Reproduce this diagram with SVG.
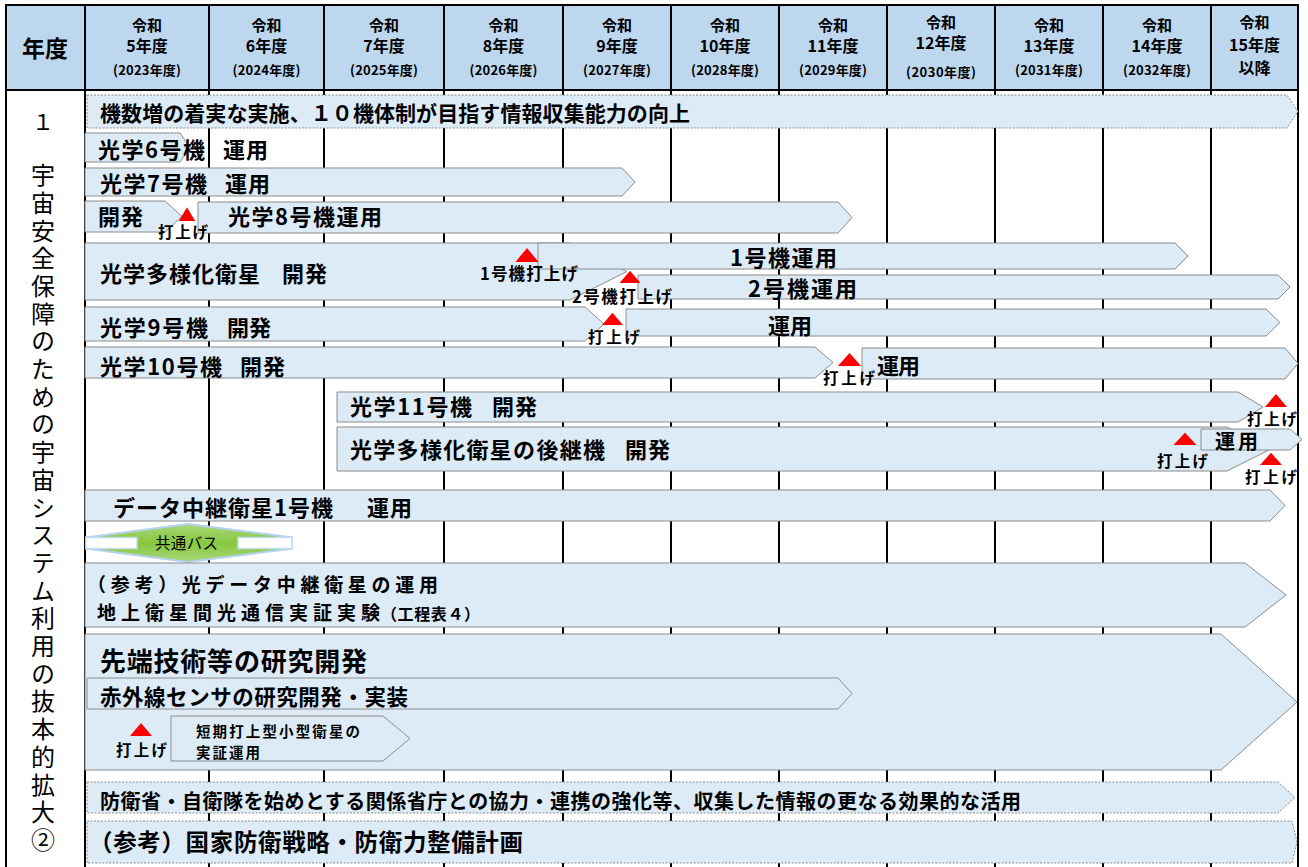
<svg xmlns="http://www.w3.org/2000/svg" width="1308" height="867" viewBox="0 0 1308 867">
<style>
.bar{fill:#DDEBF7;stroke:#8C8C8C;stroke-width:1}
.dot{fill:#DDEBF7;stroke:#8C8C8C;stroke-width:1;stroke-dasharray:2 1.5}
.t{font-family:"Noto Sans CJK JP","Noto Sans CJK SC",sans-serif;font-weight:700;fill:#000}
.n{font-family:"Noto Sans CJK JP","Noto Sans CJK SC",sans-serif;font-weight:400;fill:#000}
.tri{fill:#FF0000}
.grid{stroke:#000;stroke-width:2;fill:none}
.h1{font-size:15px}
.h2{font-size:16px}
.h3{font-size:13px}
.s16{font-size:15.5px}
.s17{font-size:16.5px}
.s22{font-size:22px}
</style>
<defs>
<polygon id="tri" points="-11,0 11,0 0,-13" class="tri"/>
<linearGradient id="grn" x1="0" y1="0" x2="0" y2="1">
<stop offset="0" stop-color="#A9D67A"/>
<stop offset="0.5" stop-color="#86C840"/>
<stop offset="1" stop-color="#A9D67A"/>
</linearGradient>
</defs>
<rect x="0" y="0" width="1308" height="867" fill="#FFFFFF"/>
<g id="header">
<rect x="6" y="5" width="1292" height="85" fill="#BDD7EE"/>
<text class="t" x="45" y="56.5" font-size="23" text-anchor="middle">年度</text>
<g text-anchor="middle">
<text class="t h1" x="147" y="30.5">令和</text><text class="t h2" x="147" y="52">5年度</text><text class="t h3" x="147" y="75" textLength="68">(2023年度)</text>
<text class="t h1" x="266.5" y="30.5">令和</text><text class="t h2" x="266.5" y="52">6年度</text><text class="t h3" x="266.5" y="75" textLength="68">(2024年度)</text>
<text class="t h1" x="384" y="30.5">令和</text><text class="t h2" x="384" y="52">7年度</text><text class="t h3" x="384" y="75" textLength="68">(2025年度)</text>
<text class="t h1" x="503.5" y="30.5">令和</text><text class="t h2" x="503.5" y="52">8年度</text><text class="t h3" x="503.5" y="75" textLength="68">(2026年度)</text>
<text class="t h1" x="617" y="30.5">令和</text><text class="t h2" x="617" y="52">9年度</text><text class="t h3" x="617" y="75" textLength="68">(2027年度)</text>
<text class="t h1" x="725" y="30.5">令和</text><text class="t h2" x="725" y="52">10年度</text><text class="t h3" x="725" y="75" textLength="68">(2028年度)</text>
<text class="t h1" x="833" y="30.5">令和</text><text class="t h2" x="833" y="52">11年度</text><text class="t h3" x="833" y="75" textLength="68">(2029年度)</text>
<text class="t h1" x="941" y="27.5">令和</text><text class="t h2" x="941" y="49">12年度</text><text class="t h3" x="941" y="77" textLength="70">(2030年度)</text>
<text class="t h1" x="1049" y="30.5">令和</text><text class="t h2" x="1049" y="52">13年度</text><text class="t h3" x="1049" y="75" textLength="68">(2031年度)</text>
<text class="t h1" x="1157" y="30.5">令和</text><text class="t h2" x="1157" y="52">14年度</text><text class="t h3" x="1157" y="75" textLength="68">(2032年度)</text>
<text class="t h1" x="1254.5" y="27.5">令和</text><text class="t h2" x="1254.5" y="51">15年度</text><text class="t h2" x="1254.5" y="74">以降</text>
</g>
</g>
<g id="grid">
<line class="grid" x1="6" y1="5" x2="1298" y2="5"/>
<line class="grid" x1="6" y1="90" x2="1298" y2="90"/>
<line class="grid" x1="6" y1="4" x2="6" y2="867" stroke-width="2.5"/>
<line class="grid" x1="85" y1="5" x2="85" y2="867"/>
<line class="grid" x1="209" y1="5" x2="209" y2="867"/>
<line class="grid" x1="324" y1="5" x2="324" y2="867"/>
<line class="grid" x1="444" y1="5" x2="444" y2="867"/>
<line class="grid" x1="563" y1="5" x2="563" y2="867"/>
<line class="grid" x1="671" y1="5" x2="671" y2="867"/>
<line class="grid" x1="779" y1="5" x2="779" y2="867"/>
<line class="grid" x1="887" y1="5" x2="887" y2="867"/>
<line class="grid" x1="995" y1="5" x2="995" y2="867"/>
<line class="grid" x1="1103" y1="5" x2="1103" y2="867"/>
<line class="grid" x1="1211" y1="5" x2="1211" y2="867"/>
<line class="grid" x1="1298" y1="4" x2="1298" y2="867" stroke-width="2.5"/>
</g>
<g id="side-label">
<text class="n" x="43" y="130" font-size="22" text-anchor="middle">１</text>
<text class="n" x="43" y="163" font-size="24" writing-mode="vertical-rl" letter-spacing="3.7">宇宙安全保障のための宇宙システム利用の抜本的拡大②</text>
</g>
<g id="node-goal">
<polygon class="dot" points="87,95 1287,95 1298,111.5 1287,128 87,128"/>
<text class="t" x="100" y="121" font-size="21" textLength="590">機数増の着実な実施、１０機体制が目指す情報収集能力の向上</text>
</g>
<g id="node-opt6">
<polygon class="bar" points="85,133 180,133 190,147.5 180,162 85,162"/>
<text class="t s22" x="98" y="157.5" textLength="107">光学6号機</text>
<text class="t s22" x="223" y="157.5" textLength="45">運用</text>
</g>
<g id="node-opt7">
<polygon class="bar" points="85,168 622,168 635,182 622,196 85,196"/>
<text class="t s22" x="100" y="192" textLength="107">光学7号機</text>
<text class="t s22" x="225" y="192" textLength="45">運用</text>
</g>
<g id="node-opt8-dev">
<polygon class="bar" points="85,201 165,201 182,216.5 165,232 85,232"/>
<text class="t s22" x="98" y="225" textLength="45">開発</text>
</g>
<g id="node-opt8-op">
<polygon class="bar" points="198,202 838,202 852,217.5 838,233 198,233"/>
<text class="t s22" x="228" y="225" textLength="154">光学8号機運用</text>
</g>
<g id="node-opt8-launch">
<use href="#tri" transform="translate(187,221) scale(0.75,1.05)"/>
<text class="t s16" x="158" y="237.5" textLength="50">打上げ</text>
</g>
<g id="node-multi-dev">
<polygon class="bar" points="85,243 570,243 627,271.5 570,300 85,300"/>
<text class="t s22" x="100" y="281.5" textLength="160">光学多様化衛星</text>
<text class="t s22" x="282" y="281.5" textLength="45">開発</text>
</g>
<g id="node-multi-op1">
<polygon class="bar" points="538,243 1175,243 1188,256 1175,269 538,269"/>
<text class="t s22" x="730" y="266" textLength="107">1号機運用</text>
</g>
<g id="node-multi-op2">
<polygon class="bar" points="638,275 1278,275 1290,287 1278,299 638,299"/>
<text class="t s22" x="748" y="297" textLength="109">2号機運用</text>
</g>
<g id="node-multi-launch1">
<use href="#tri" transform="translate(527,262) scale(1.05,1.08)"/>
<text class="t s17" x="480" y="280" textLength="98">1号機打上げ</text>
</g>
<g id="node-multi-launch2">
<use href="#tri" transform="translate(630,283) scale(0.95,0.95)"/>
<text class="t s17" x="572" y="303" textLength="100">2号機打上げ</text>
</g>
<g id="node-opt9-dev">
<polygon class="bar" points="85,307 585,307 604,324 585,341 85,341"/>
<text class="t s22" x="100" y="335.5" textLength="108">光学9号機</text>
<text class="t s22" x="227" y="335.5" textLength="44">開発</text>
</g>
<g id="node-opt9-op">
<polygon class="bar" points="626,309 1266,309 1280,322.5 1266,336 626,336"/>
<text class="t s22" x="768" y="334" textLength="44">運用</text>
</g>
<g id="node-opt9-launch">
<use href="#tri" transform="translate(612.5,325) scale(0.95,0.95)"/>
<text class="t s16" x="588" y="342.5" textLength="52">打上げ</text>
</g>
<g id="node-opt10-dev">
<polygon class="bar" points="85,347 815,347 833,362.5 815,378 85,378"/>
<text class="t s22" x="100" y="374.5" textLength="122">光学10号機</text>
<text class="t s22" x="240" y="374.5" textLength="45">開発</text>
</g>
<g id="node-opt10-op">
<polygon class="bar" points="862,348 1285,348 1298,363.5 1285,379 862,379"/>
<text class="t s22" x="877" y="374" textLength="43">運用</text>
</g>
<g id="node-opt10-launch">
<use href="#tri" transform="translate(849.5,366) scale(1.05,1)"/>
<text class="t s16" x="823" y="383.5" textLength="52">打上げ</text>
</g>
<g id="node-opt11-dev">
<polygon class="bar" points="337,392 1238,392 1263,407 1238,422 337,422"/>
<text class="t s22" x="350" y="415" textLength="122">光学11号機</text>
<text class="t s22" x="492" y="415" textLength="45">開発</text>
</g>
<g id="node-opt11-launch">
<use href="#tri" transform="translate(1276,407) scale(1,1)"/>
<text class="t s16" x="1247" y="424.5" textLength="50">打上げ</text>
</g>
<g id="node-multi2-dev">
<polygon class="bar" points="337,427 1227,427 1271,449 1227,471 337,471"/>
<text class="t s22" x="350" y="457.5" textLength="255">光学多様化衛星の後継機</text>
<text class="t s22" x="625" y="457.5" textLength="45">開発</text>
</g>
<g id="node-multi2-op">
<polygon class="bar" points="1201,429 1290,429 1302,439.5 1290,450 1201,450"/>
<text class="t" x="1215" y="449" font-size="20" textLength="43">運用</text>
</g>
<g id="node-multi2-launch1">
<use href="#tri" transform="translate(1185,445) scale(1.05,0.95)"/>
<text class="t s16" x="1157" y="466.5" textLength="51">打上げ</text>
</g>
<g id="node-multi2-launch2">
<use href="#tri" transform="translate(1271,465) scale(1,0.95)"/>
<text class="t s16" x="1245" y="482.5" textLength="52">打上げ</text>
</g>
<g id="node-relay">
<polygon class="bar" points="85,490 1270,490 1285,505.5 1270,521 85,521"/>
<text class="t s22" x="113" y="515.5" textLength="220">データ中継衛星1号機</text>
<text class="t s22" x="367" y="515.5" textLength="45">運用</text>
</g>
<g id="node-common-bus">
<polygon points="86,537.5 188,524 292,537.5 292,548.5 188,562 86,548.5" fill="url(#grn)" stroke="#B4D2F0" stroke-width="2"/>
<rect x="86" y="537.5" width="51" height="11" fill="#FFFFFF" stroke="#C5DCF3" stroke-width="1.5"/>
<rect x="238" y="537.5" width="54" height="11" fill="#FFFFFF" stroke="#C5DCF3" stroke-width="1.5"/>
<text class="n" x="155" y="548.5" font-size="15.5" textLength="63">共通バス</text>
</g>
<g id="node-optical-relay">
<polygon class="bar" points="85,563 1245,563 1286,595 1245,627 85,627"/>
<text class="t" x="87" y="592" font-size="19" textLength="351">（参考）光データ中継衛星の運用</text>
<text class="t" x="97" y="620" font-size="19" textLength="283">地上衛星間光通信実証実験</text>
<text class="t" x="381" y="620" font-size="16" textLength="99">（工程表４）</text>
</g>
<g id="node-advanced">
<polygon class="bar" points="85,634 1221,634 1297,702 1221,770 85,770"/>
<text class="t" x="100" y="671" font-size="26" textLength="267">先端技術等の研究開発</text>
</g>
<g id="node-infrared">
<polygon class="bar" points="87,678 838,678 852,693.5 838,709 87,709"/>
<text class="t" x="100" y="704.5" font-size="21.5" textLength="308">赤外線センサの研究開発・実装</text>
</g>
<g id="node-small-sat">
<polygon class="bar" points="171,716 383,716 410,738.5 383,761 171,761"/>
<text class="t" x="196" y="736.5" font-size="14.5" textLength="164">短期打上型小型衛星の</text>
<text class="t" x="196" y="757.5" font-size="14.5" textLength="64">実証運用</text>
</g>
<g id="node-small-sat-launch">
<use href="#tri" transform="translate(141,736) scale(1,1)"/>
<text class="t s16" x="116" y="755.5" textLength="51">打上げ</text>
</g>
<g id="node-cooperation">
<polygon class="dot" points="87,782 1278,782 1295,797.5 1278,813 87,813"/>
<text class="t" x="100" y="808.5" font-size="20" textLength="921">防衛省・自衛隊を始めとする関係省庁との協力・連携の強化等、収集した情報の更なる効果的な活用</text>
</g>
<g id="node-strategy">
<polygon class="dot" points="87,821 1292,821 1297,842 1292,863 87,863"/>
<text class="t" x="89" y="850.5" font-size="23.5" textLength="434">（参考）国家防衛戦略・防衛力整備計画</text>
</g>
</svg>
